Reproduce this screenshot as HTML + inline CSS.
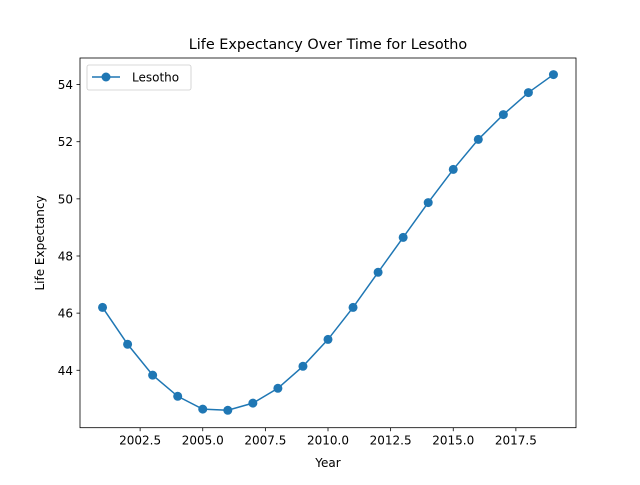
<!DOCTYPE html>
<html><head><meta charset="utf-8"><style>
body{margin:0;background:#fff;}
svg text{font-family:"DejaVu Sans","Liberation Sans",sans-serif;fill:#000;}
</style></head><body>
<svg id="chart" width="640" height="480" xmlns="http://www.w3.org/2000/svg">
<rect width="640" height="480" fill="#fff"/>
<text x="328" y="49" font-size="14.4" text-anchor="middle">Life Expectancy Over Time for Lesotho</text>
<g id="ticks"></g>
<polyline id="line" fill="none" stroke="#1f77b4" stroke-width="1.5"/>
<g id="pts"></g>
<rect x="80" y="58" width="496" height="369.7" fill="none" stroke="#000" stroke-width="0.8"/>
<text x="328" y="467" font-size="12" text-anchor="middle">Year</text>
<text transform="translate(44,243) rotate(-90)" font-size="12" text-anchor="middle">Life Expectancy</text>
<g>
<rect x="87" y="65" width="104" height="25" rx="2" fill="#fff" stroke="#ccc" stroke-width="0.8"/>
<line x1="92" y1="77" x2="120" y2="77" stroke="#1f77b4" stroke-width="1.5"/>
<circle cx="106" cy="77" r="4.5" fill="#1f77b4"/>
<text x="132" y="81.5" font-size="12">Lesotho</text>
</g>
</svg>
<script>
const years=[2001,2002,2003,2004,2005,2006,2007,2008,2009,2010,2011,2012,2013,2014,2015,2016,2017,2018,2019];
const lifeExp=[46.2,44.91,43.83,43.09,42.64,42.6,42.85,43.37,44.14,45.08,46.2,47.43,48.65,49.87,51.03,52.08,52.95,53.72,54.35];
const xTicks=[2002.5,2005.0,2007.5,2010.0,2012.5,2015.0,2017.5];
const yTicks=[44,46,48,50,52,54];
const X0=80,X1=576,Y0=427.7,Y1=58;
const xmin=2000.1,xmax=2019.9,ymin=41.99,ymax=54.93;
const sx=v=>X0+(v-xmin)/(xmax-xmin)*(X1-X0);
const sy=v=>Y0-(v-ymin)/(ymax-ymin)*(Y0-Y1);
const NS="http://www.w3.org/2000/svg";
const tg=document.getElementById('ticks');
function mk(tag,attrs,parent){const e=document.createElementNS(NS,tag);for(const k in attrs)e.setAttribute(k,attrs[k]);parent.appendChild(e);return e;}
xTicks.forEach(t=>{
  const l=mk('line',{x1:sx(t),x2:sx(t),y1:Y0,y2:Y0+3.5,stroke:'#000','stroke-width':0.8},tg);
  
  
  const tx=mk('text',{x:sx(t),y:Y0+17,'font-size':12,'text-anchor':'middle'},tg);
  tx.textContent=t.toFixed(1);
  
  
});
yTicks.forEach(t=>{
  const l=mk('line',{x1:X0-3.5,x2:X0,y1:sy(t),y2:sy(t),stroke:'#000','stroke-width':0.8},tg);
  
  
  const tx=mk('text',{x:X0-7,y:sy(t)+4.5,'font-size':12,'text-anchor':'end'},tg);
  tx.textContent=t;
  
  
});
document.getElementById('line').setAttribute('points',years.map((y,i)=>sx(y)+','+sy(lifeExp[i])).join(' '));
const pg=document.getElementById('pts');
years.forEach((y,i)=>{
  const c=mk('circle',{cx:sx(y),cy:sy(lifeExp[i]),r:4.5,fill:'#1f77b4'},pg);
  
  
});
</script>
</body></html>
